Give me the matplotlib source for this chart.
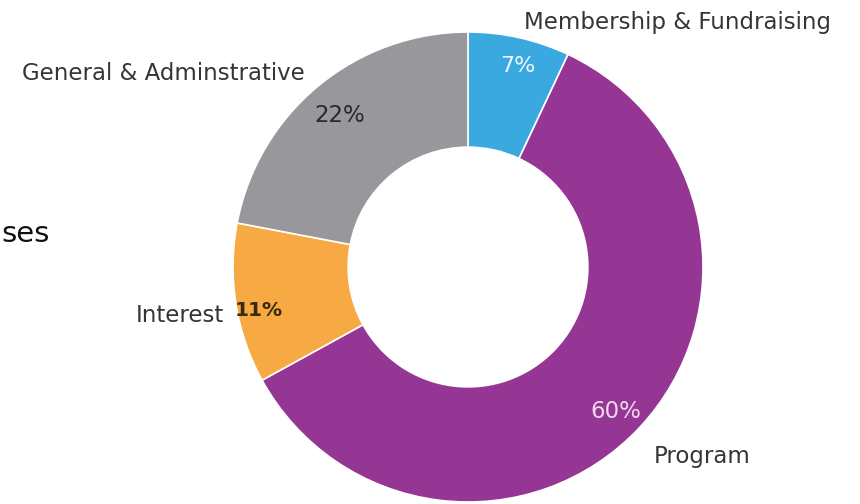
import matplotlib
matplotlib.use("Agg")
import matplotlib.pyplot as plt

categories = ["Membership & Fundraising", "Program", "Interest", "General & Adminstrative"]
values = [7, 60, 11, 22]
pct_labels = ["7%", "60%", "11%", "22%"]
colors = ["#3aa9e0", "#953594", "#f7aa44", "#98979b"]
title_fragment = "ses"

W, H = 860, 504
fig = plt.figure(figsize=(W / 100, H / 100), dpi=100)
cx, cy, R = 468, 267, 235
ax = fig.add_axes([(cx - R) / W, (H - cy - R) / H, 2 * R / W, 2 * R / H])
ax.pie(values, colors=colors, startangle=90, counterclock=False, radius=1.0,
       wedgeprops=dict(width=0.49, edgecolor="white", linewidth=1.2))
ax.set_xlim(-1, 1)
ax.set_ylim(-1, 1)
ax.set_aspect("equal")
ax.axis("off")

def ftext(px, py, s, **kw):
    fig.text(px / W, 1 - py / H, s, ha="center", va="center", **kw)

font = "DejaVu Sans"
lab_col = "#353535"
fs = 16.5
# outer labels
ftext(677, 22, categories[0], fontsize=fs, color=lab_col, family=font)
ftext(702, 457, categories[1], fontsize=fs, color=lab_col, family=font)
ftext(180, 316, categories[2], fontsize=fs, color=lab_col, family=font)
ftext(163, 73, categories[3], fontsize=fs, color=lab_col, family=font)
# percentages
ftext(518, 66, pct_labels[0], fontsize=16, color="#eef7fc", family=font)
ftext(616, 412, pct_labels[1], fontsize=16.5, color="#f3d6f1", family=font)
ftext(259, 311, pct_labels[2], fontsize=14.5, color="#3a2a0c", family=font, fontweight="bold")
ftext(340, 115, pct_labels[3], fontsize=16.5, color="#2a2a2c", family=font)

# cropped title fragment
fig.text(1 / W, 1 - 234 / H, title_fragment, ha="left", va="center", fontsize=21,
         color="#111111", family=font)

fig.savefig("out.png", dpi=100, facecolor="white")
